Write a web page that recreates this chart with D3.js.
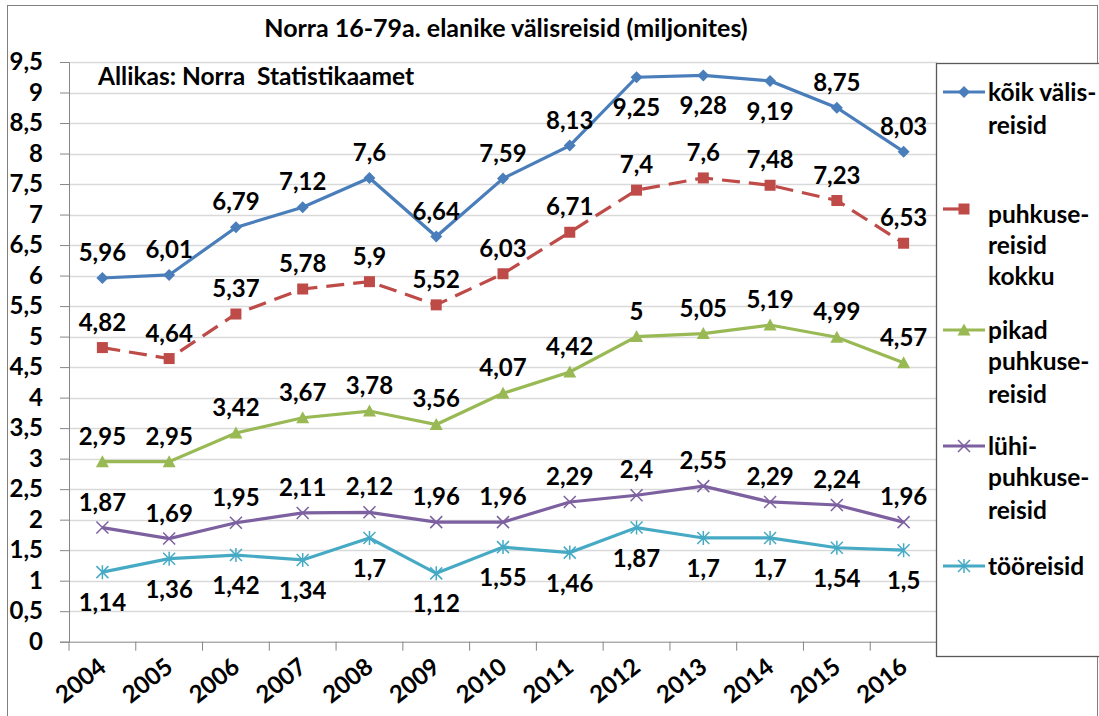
<!DOCTYPE html>
<html>
<head>
<meta charset="utf-8">
<script src="https://cdn.jsdelivr.net/npm/d3@7"></script>
<style>
  body { margin: 0; background: #fff; }
  svg { display: block; font-family: Lato, "Open Sans", sans-serif; font-weight: bold; }
</style>
</head>
<body>
<svg id="chart" width="1099" height="716"></svg>
<script>
const years = ['2004', '2005', '2006', '2007', '2008', '2009', '2010', '2011', '2012', '2013', '2014', '2015', '2016'];
const koikValisreisid = [5.96, 6.01, 6.79, 7.12, 7.6, 6.64, 7.59, 8.13, 9.25, 9.28, 9.19, 8.75, 8.03];
const puhkusereisidKokku = [4.82, 4.64, 5.37, 5.78, 5.9, 5.52, 6.03, 6.71, 7.4, 7.6, 7.48, 7.23, 6.53];
const pikadPuhkusereisid = [2.95, 2.95, 3.42, 3.67, 3.78, 3.56, 4.07, 4.42, 5, 5.05, 5.19, 4.99, 4.57];
const luhiPuhkusereisid = [1.87, 1.69, 1.95, 2.11, 2.12, 1.96, 1.96, 2.29, 2.4, 2.55, 2.29, 2.24, 1.96];
const tooreisid = [1.14, 1.36, 1.42, 1.34, 1.7, 1.12, 1.55, 1.46, 1.87, 1.7, 1.7, 1.54, 1.5];
const yTicks = [0, 0.5, 1, 1.5, 2, 2.5, 3, 3.5, 4, 4.5, 5, 5.5, 6, 6.5, 7, 7.5, 8, 8.5, 9, 9.5];

const title = 'Norra 16-79a. elanike välisreisid (miljonites)';
const source = 'Allikas: Norra\u00a0 Statistikaamet';

// label side: 'up' or 'down' per point
const series = [
  {name: ['kõik välis-', 'reisid'], values: koikValisreisid, color: '#4a7ebb', marker: 'diamond',
   labelSide: years.map((y, i) => (i >= 8 && i <= 10) ? 'down' : 'up'), legendY: [92, 125]},
  {name: ['puhkuse-', 'reisid', 'kokku'], values: puhkusereisidKokku, color: '#be4b48', marker: 'square', dash: '18,9',
   labelSide: years.map(() => 'up'), legendY: [214, 245, 276], sampleY: 209},
  {name: ['pikad', 'puhkuse-', 'reisid'], values: pikadPuhkusereisid, color: '#98b954', marker: 'triangle',
   labelSide: years.map(() => 'up'), legendY: [330, 361, 394]},
  {name: ['lühi-', 'puhkuse-', 'reisid'], values: luhiPuhkusereisid, color: '#7d60a0', marker: 'cross',
   labelSide: years.map(() => 'up'), legendY: [446, 477, 510]},
  {name: ['tööreisid'], values: tooreisid, color: '#46aac5', marker: 'star',
   labelSide: years.map(() => 'down'), legendY: [566]}
];

const fmt = v => String(v).replace('.', ',');

const svg = d3.select('#chart');
const plot = {left: 69, right: 937, top: 62, bottom: 641.7};

const x = d3.scaleBand().domain(years).range([plot.left, plot.right]);
const y = d3.scaleLinear().domain([0, 9.5]).range([plot.bottom, plot.top]);

// outer border
svg.append('rect')
  .attr('x', 7.5).attr('y', 5.5)
  .attr('width', 1090).attr('height', 720)
  .attr('fill', 'none').attr('stroke', '#7f7f7f').attr('stroke-width', 1);

// gridlines
svg.append('g')
  .selectAll('line')
  .data(yTicks.filter(t => t > 0))
  .join('line')
    .attr('x1', plot.left).attr('x2', plot.right)
    .attr('y1', d => Math.round(y(d)) + 0.5).attr('y2', d => Math.round(y(d)) + 0.5)
    .attr('stroke', '#d9d9d9').attr('stroke-width', 1.3);

// y axis
const yAxis = svg.append('g')
  .attr('transform', `translate(${plot.left},0)`)
  .call(d3.axisLeft(y).tickValues(yTicks).tickFormat(fmt).tickSize(9).tickPadding(17));
yAxis.select('.domain').attr('stroke', '#868686');
yAxis.selectAll('.tick line').attr('stroke', '#868686');
yAxis.selectAll('.tick text')
  .attr('font-size', 24).attr('font-family', 'Lato').attr('font-weight', 'bold').attr('fill', '#000');

// x axis
const xAxis = svg.append('g')
  .attr('transform', `translate(0,${plot.bottom})`)
  .call(d3.axisBottom(x).tickSize(0).tickFormat(''));
xAxis.select('.domain').attr('stroke', '#868686');
svg.append('g')
  .selectAll('line')
  .data(years)
  .join('line')
    .attr('x1', d => x(d)).attr('x2', d => x(d))
    .attr('y1', plot.bottom).attr('y2', plot.bottom + 9)
    .attr('stroke', '#868686');
svg.append('g')
  .selectAll('text')
  .data(years)
  .join('text')
    .attr('transform', d => `translate(${x(d) + x.bandwidth() / 2 - 5},${plot.bottom + 15}) rotate(-38)`)
    .attr('text-anchor', 'end')
    .attr('dy', '0.7em')
    .attr('font-size', 24)
    .text(d => d);

// lines, markers
const line = d3.line()
  .x((d, i) => x(years[i]) + x.bandwidth() / 2)
  .y(d => y(d));

function drawMarker(g, type, color) {
  if (type === 'diamond') {
    g.append('path').attr('d', 'M0,-6L6,0L0,6L-6,0Z').attr('fill', color);
  } else if (type === 'square') {
    g.append('rect').attr('x', -5.5).attr('y', -5.5).attr('width', 11).attr('height', 11).attr('fill', color);
  } else if (type === 'triangle') {
    g.append('path').attr('d', 'M0,-6.5L6.5,5.5L-6.5,5.5Z').attr('fill', color);
  } else if (type === 'cross') {
    g.append('path').attr('d', 'M-6,-6L6,6M-6,6L6,-6').attr('stroke', color).attr('stroke-width', 1.5);
  } else if (type === 'star') {
    g.append('path').attr('d', 'M-6,-6L6,6M-6,6L6,-6M0,-7L0,7').attr('stroke', color).attr('stroke-width', 1.5);
  }
}

series.forEach(s => {
  const g = svg.append('g');
  g.append('path')
    .datum(s.values)
    .attr('d', line)
    .attr('fill', 'none')
    .attr('stroke', s.color)
    .attr('stroke-width', 3.2)
    .attr('stroke-dasharray', s.dash || null);
  s.values.forEach((v, i) => {
    const m = g.append('g')
      .attr('transform', `translate(${x(years[i]) + x.bandwidth() / 2},${y(v)})`);
    drawMarker(m, s.marker, s.color);
  });
});

// data labels
series.forEach(s => {
  svg.append('g')
    .selectAll('text')
    .data(s.values)
    .join('text')
      .attr('x', (d, i) => x(years[i]) + x.bandwidth() / 2)
      .attr('y', (d, i) => s.labelSide[i] === 'up' ? y(d) - 17 : y(d) + 39)
      .attr('text-anchor', 'middle')
      .attr('font-size', 24)
      .text(fmt);
});

// title and source
svg.append('text')
  .attr('x', 506).attr('y', 37)
  .attr('text-anchor', 'middle')
  .attr('font-size', 25)
  .text(title);

svg.append('text')
  .attr('x', 98).attr('y', 85)
  .attr('font-size', 24.5)
  .text(source);

// legend
const legend = svg.append('g');
legend.append('rect')
  .attr('x', 936.5).attr('y', 63.5)
  .attr('width', 170).attr('height', 593)
  .attr('fill', '#fff').attr('stroke', '#595959').attr('stroke-width', 1.3);

series.forEach(s => {
  const sy = s.sampleY || s.legendY[0];
  const lg = legend.append('g');
  lg.append('line')
    .attr('x1', 943).attr('x2', s.dash ? 964 : 985)
    .attr('y1', sy).attr('y2', sy)
    .attr('stroke', s.color).attr('stroke-width', 3.2);
  drawMarker(lg.append('g').attr('transform', `translate(964,${sy})`), s.marker, s.color);
  s.name.forEach((t, k) => {
    lg.append('text')
      .attr('x', 988).attr('y', s.legendY[k])
      .attr('dy', '0.36em')
      .attr('font-size', 24.5)
      .text(t);
  });
});
</script>
</body>
</html>
